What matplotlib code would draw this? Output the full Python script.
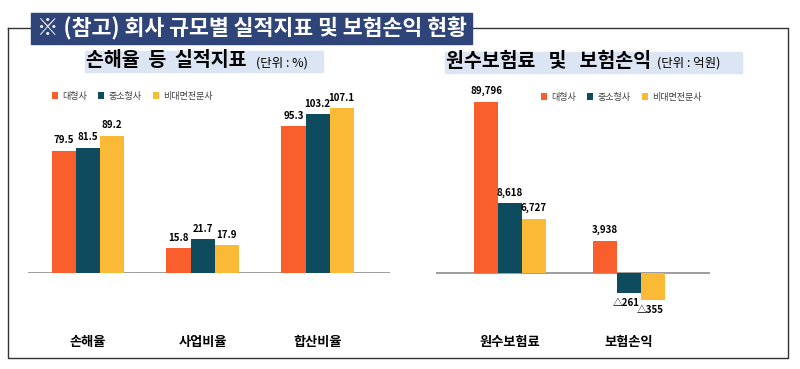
import numpy as np
import matplotlib.pyplot as plt
from matplotlib.patches import Rectangle
from matplotlib.lines import Line2D

plt.rcParams['font.family'] = ['Noto Sans CJK KR', 'DejaVu Sans']

# ===== data =====
series = ["대형사", "중소형사", "비대면전문사"]
colors = ["#F95F2C", "#0E4B5E", "#FBBA35"]

ratio_cats = ["손해율", "사업비율", "합산비율"]
ratio_vals = {
    "대형사": [79.5, 15.8, 95.3],
    "중소형사": [81.5, 21.7, 103.2],
    "비대면전문사": [89.2, 17.9, 107.1],
}

money_cats = ["원수보험료", "보험손익"]
money_vals = {
    "대형사": [89796, 3938],
    "중소형사": [8618, -261],
    "비대면전문사": [6727, -355],
}

W, H = 800, 369
fig = plt.figure(figsize=(W / 100, H / 100), dpi=100)


def px_box(x0, y0, x1, y1):
    # pixel box (top-left origin) -> figure fraction rect
    return [x0 / W, 1 - y1 / H, (x1 - x0) / W, (y1 - y0) / H]


# ===== frame & title =====
frame = fig.add_axes([0, 0, 1, 1])
frame.set_xlim(0, W)
frame.set_ylim(H, 0)
frame.axis("off")
frame.add_line(Line2D([8, 8, 788, 788, 8], [28, 358, 358, 28, 28], color="#333333", lw=1))
frame.add_patch(Rectangle((31, 13), 441, 31, color="#2F4478", zorder=3))
frame.text(252, 29, "※ (참고) 회사 규모별 실적지표 및 보험손익 현황", color="white",
           fontsize=15.6, fontweight="bold", ha="center", va="center", zorder=4)

# subtitles with light highlight
frame.add_patch(Rectangle((85, 51), 238, 21, color="#DCE5F3", zorder=1))
frame.text(86, 61, "손해율  등  실적지표", fontsize=14, fontweight="heavy",
           ha="left", va="center", zorder=2)
frame.text(256, 63, "(단위 : %)", fontsize=9, ha="left", va="center", zorder=2)

frame.add_patch(Rectangle((445, 52), 297, 21, color="#DCE5F3", zorder=1))
frame.text(446, 61, "원수보험료   및   보험손익", fontsize=14, fontweight="heavy",
           ha="left", va="center", zorder=2)
frame.text(657, 63, "(단위 : 억원)", fontsize=9, ha="left", va="center", zorder=2)


def style_axes(ax, pad):
    for s in ax.spines.values():
        s.set_visible(False)
    ax.set_yticks([])
    ax.axhline(0, color="#8C8C8C", lw=1.2, zorder=1)
    ax.tick_params(axis="x", length=0, pad=pad, labelsize=9.5)
    for lab in ax.get_xticklabels():
        lab.set_fontweight("bold")


# ===== left chart: 실적지표 =====
ax1 = fig.add_axes(px_box(28, 90, 390, 272.7))
x1 = np.arange(len(ratio_cats))
bw1 = 0.21
for i, name in enumerate(series):
    xs = x1 + (i - 1) * bw1
    ax1.bar(xs, ratio_vals[name], width=bw1, color=colors[i], label=name, zorder=2)
    for xv, v in zip(xs, ratio_vals[name]):
        ax1.annotate(f"{v:.1f}", (xv, v), xytext=(0, 4), textcoords="offset points",
                     ha="center", va="bottom", fontsize=7, fontweight="bold")
ax1.set_xlim(-0.52, 2.63)
ax1.set_ylim(0, 119)
ax1.set_xticks(x1, ratio_cats)
style_axes(ax1, 45)
ax1.legend(loc="center left", bbox_to_anchor=(0.055, 1.0 - 6 / 182.7), ncol=3, frameon=False,
           fontsize=6.5, handlelength=0.7, handleheight=0.7, handletextpad=0.5,
           columnspacing=1.2, borderaxespad=0, labelcolor="#404040")


# ===== right chart: 원수보험료 및 보험손익 (broken-scale drawing) =====
BRK, COMP, NEG = 10000.0, 0.1407, 9.5


def fwd(y):
    y = np.asarray(y, dtype=float)
    return np.where(y < 0, y * NEG, np.where(y < BRK, y, BRK + (y - BRK) * COMP))


def inv(t):
    t = np.asarray(t, dtype=float)
    return np.where(t < 0, t / NEG, np.where(t < BRK, t, BRK + (t - BRK) / COMP))


ax2 = fig.add_axes(px_box(436, 90, 710, 310))
ax2.set_yscale("function", functions=(fwd, inv))
x2 = np.arange(len(money_cats))
bw2 = 0.2
for i, name in enumerate(series):
    xs = x2 + (i - 1) * bw2
    ax2.bar(xs, money_vals[name], width=bw2, color=colors[i], label=name, zorder=2)
    for xv, v in zip(xs, money_vals[name]):
        if v >= 0:
            ax2.annotate(f"{v:,}", (xv, v), xytext=(0, 4), textcoords="offset points",
                         ha="center", va="bottom", fontsize=7, fontweight="bold")
        else:
            ax2.annotate(f"△{abs(v):,}", (xv, v), xytext=(-2, -4), textcoords="offset points",
                         ha="center", va="top", fontsize=7, fontweight="bold")
ax2.set_xlim(-0.62, 1.68)
ax2.set_ylim(-488, 100170)
ax2.set_xticks(x2, money_cats)
style_axes(ax2, 18)
ax2.legend(loc="center left", bbox_to_anchor=((537 - 436) / 274, 1.0 - 7 / 220), ncol=3,
           frameon=False, fontsize=6.5, handlelength=0.7, handleheight=0.7,
           handletextpad=0.5, columnspacing=1.2, borderaxespad=0, labelcolor="#404040")

fig.savefig("out.png", dpi=100)
